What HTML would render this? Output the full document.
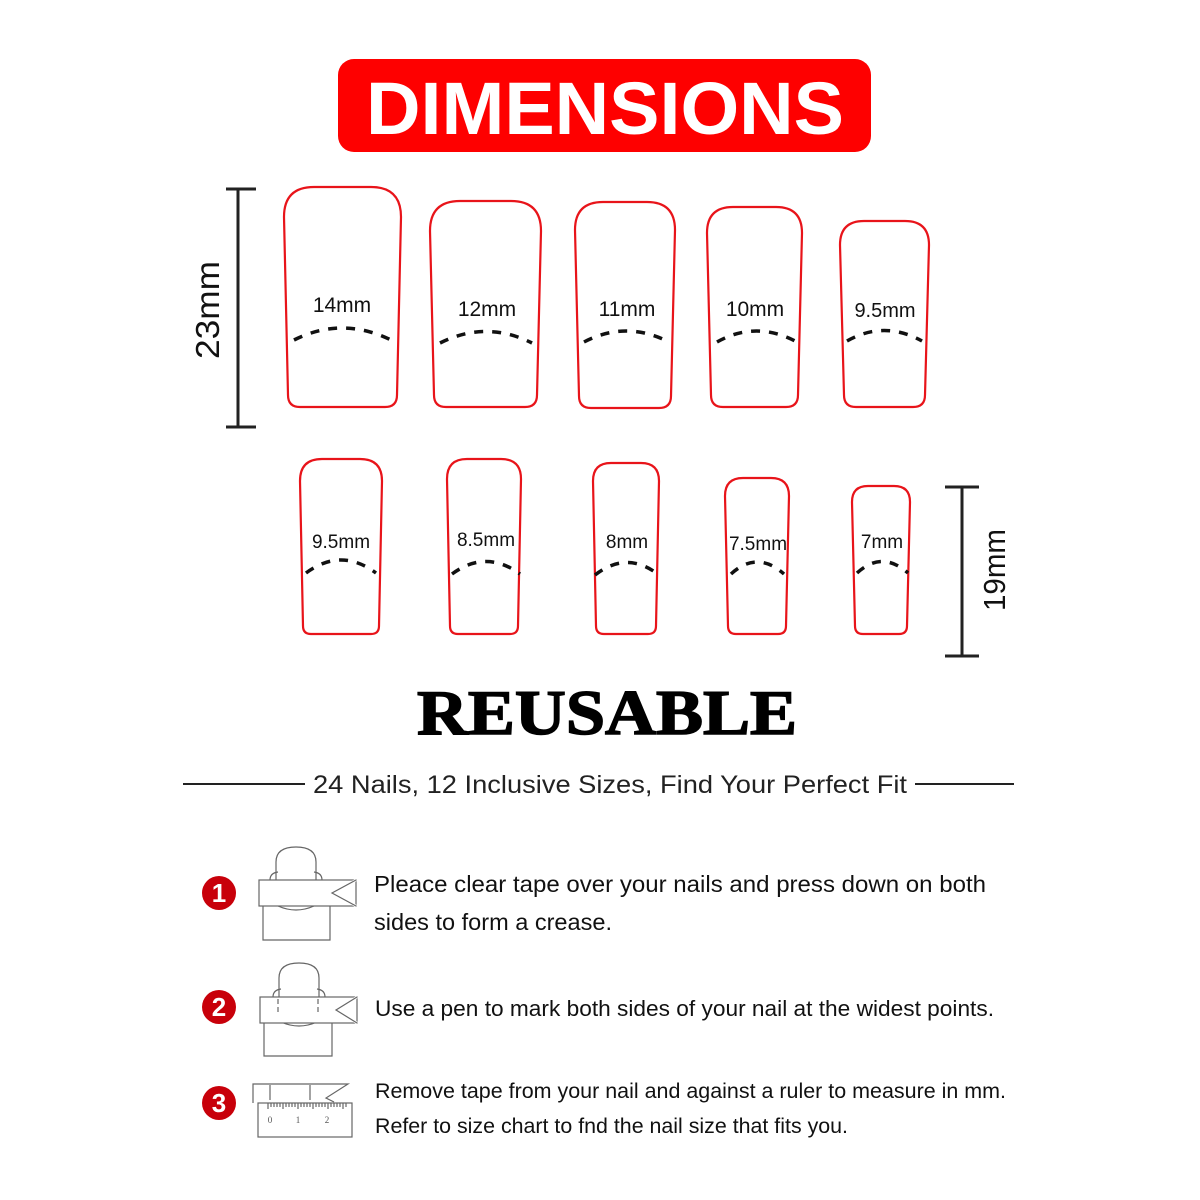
<!DOCTYPE html>
<html><head><meta charset="utf-8"><style>
html,body{margin:0;padding:0;background:#fff;}
svg{display:block;}
</style></head><body>
<svg width="1200" height="1200" viewBox="0 0 1200 1200" xmlns="http://www.w3.org/2000/svg">
<rect width="1200" height="1200" fill="#fff"/>
<!-- title -->
<rect x="338" y="59" width="533" height="93" rx="16" fill="#fe0000"/>
<text x="605" y="134" text-anchor="middle" font-family="Liberation Sans, sans-serif" font-weight="bold" font-size="74" fill="#fff" textLength="478" lengthAdjust="spacingAndGlyphs">DIMENSIONS</text>

<!-- rulers -->
<g stroke="#222" stroke-width="3" fill="none">
<line x1="238" y1="189" x2="238" y2="427"/><line x1="226" y1="189" x2="256" y2="189"/><line x1="226" y1="427" x2="256" y2="427"/>
<line x1="962" y1="487" x2="962" y2="656"/><line x1="945" y1="487" x2="979" y2="487"/><line x1="945" y1="656" x2="979" y2="656"/>
</g>
<text transform="translate(219,310) rotate(-90)" text-anchor="middle" font-family="Liberation Sans, sans-serif" font-size="33" fill="#111" textLength="98" lengthAdjust="spacingAndGlyphs">23mm</text>
<text transform="translate(1005,570) rotate(-90)" text-anchor="middle" font-family="Liberation Sans, sans-serif" font-size="31" fill="#111" textLength="82" lengthAdjust="spacingAndGlyphs">19mm</text>

<!-- nails -->
<g fill="none" stroke="#e8141a" stroke-width="2.2">
<path d="M314,187 L371,187 Q401,187 401,217 L397,395 Q397,407 385,407 L300,407 Q288,407 288,395 L284,217 Q284,187 314,187Z"/>
<path d="M460,201 L511,201 Q541,201 541,231 L537,395 Q537,407 525,407 L446,407 Q434,407 434,395 L430,231 Q430,201 460,201Z"/>
<path d="M603,202 L647,202 Q675,202 675,230 L671,396 Q671,408 659,408 L591,408 Q579,408 579,396 L575,230 Q575,202 603,202Z"/>
<path d="M733,207 L776,207 Q802,207 802,233 L798,395 Q798,407 786,407 L723,407 Q711,407 711,395 L707,233 Q707,207 733,207Z"/>
<path d="M864,221 L905,221 Q929,221 929,245 L925,395 Q925,407 913,407 L856,407 Q844,407 844,395 L840,245 Q840,221 864,221Z"/>
<path d="M322,459 L360,459 Q382,459 382,481 L379,626 Q379,634 371,634 L311,634 Q303,634 303,626 L300,481 Q300,459 322,459Z"/>
<path d="M467,459 L501,459 Q521,459 521,479 L518,626 Q518,634 510,634 L458,634 Q450,634 450,626 L447,479 Q447,459 467,459Z"/>
<path d="M611,463 L641,463 Q659,463 659,481 L656,626 Q656,634 648,634 L604,634 Q596,634 596,626 L593,481 Q593,463 611,463Z"/>
<path d="M743,478 L771,478 Q789,478 789,496 L786,626 Q786,634 778,634 L736,634 Q728,634 728,626 L725,496 Q725,478 743,478Z"/>
<path d="M868,486 L894,486 Q910,486 910,502 L907,626 Q907,634 899,634 L863,634 Q855,634 855,626 L852,502 Q852,486 868,486Z"/>
</g>
<g fill="none" stroke="#111" stroke-width="3.5" stroke-dasharray="9,9">
<path d="M294,340 Q342,316 391,340"/>
<path d="M440,343 Q486,320 532,343"/>
<path d="M584,342 Q626,320 669,342"/>
<path d="M717,342 Q756,320 797,342"/>
<path d="M847,341 Q884,320 922,341"/>
<path d="M306,573 Q341,547 376,573"/>
<path d="M452,574 Q486,549 520,574"/>
<path d="M595,575 Q627,550 659,575"/>
<path d="M731,574 Q757,550 784,574"/>
<path d="M857,573 Q882,550 908,573"/>
</g>
<g font-family="Liberation Sans, sans-serif" fill="#111" text-anchor="middle">
<text x="342" y="312" font-size="21">14mm</text>
<text x="487" y="316" font-size="21">12mm</text>
<text x="627" y="316" font-size="21">11mm</text>
<text x="755" y="316" font-size="21">10mm</text>
<text x="885" y="317" font-size="20">9.5mm</text>
<text x="341" y="548" font-size="19">9.5mm</text>
<text x="486" y="546" font-size="19">8.5mm</text>
<text x="627" y="548" font-size="19">8mm</text>
<text x="758" y="550" font-size="19">7.5mm</text>
<text x="882" y="548" font-size="19">7mm</text>
</g>

<!-- reusable -->
<text x="607" y="734" text-anchor="middle" font-family="Liberation Serif, serif" font-weight="bold" font-size="64" fill="#000" textLength="380" lengthAdjust="spacingAndGlyphs" stroke="#000" stroke-width="1.5">REUSABLE</text>

<line x1="183" y1="784" x2="305" y2="784" stroke="#222" stroke-width="2"/>
<line x1="915" y1="784" x2="1014" y2="784" stroke="#222" stroke-width="2"/>
<text x="313" y="793" font-family="Liberation Sans, sans-serif" font-size="25" fill="#222" textLength="594" lengthAdjust="spacingAndGlyphs">24 Nails, 12 Inclusive Sizes, Find Your Perfect Fit</text>

<!-- step circles -->
<g font-family="Liberation Sans, sans-serif" font-weight="bold" font-size="26" fill="#fff" text-anchor="middle">
<circle cx="219" cy="893" r="17" fill="#c8000a"/><text x="219" y="902">1</text>
<circle cx="219" cy="1007" r="17" fill="#c8000a"/><text x="219" y="1016">2</text>
<circle cx="219" cy="1103" r="17" fill="#c8000a"/><text x="219" y="1112">3</text>
</g>

<!-- icons -->
<g fill="none" stroke="#666" stroke-width="1.2">
<!-- icon1 -->
<path d="M276,880 L276,862 Q276,847 296,847 Q316,847 316,862 L316,880"/>
<path d="M270,880 Q270,873 278,872 M322,880 Q322,873 314,872"/>
<path d="M278,906 Q296,914 314,906"/>
<rect x="259" y="880" width="97" height="26" fill="#fff"/>
<path d="M356,880 L332,893 L356,906" stroke="#fff" stroke-width="2.5"/>
<path d="M356,880 L332,893 L356,906"/>
<path d="M263,906 L263,940 L330,940 L330,906"/>
<!-- icon2 -->
<path d="M279,997 L279,978 Q279,963 299,963 Q319,963 319,978 L319,997"/>
<path d="M273,997 Q273,990 281,989 M325,997 Q325,990 317,989"/>
<path d="M281,1022 Q299,1030 317,1022"/>
<rect x="260" y="997" width="97" height="26" fill="#fff"/>
<path d="M357,997 L336,1010 L357,1023" stroke="#fff" stroke-width="2.5"/>
<path d="M357,997 L336,1010 L357,1023"/>
<path d="M278,999 L278,1015 M318,999 L318,1015" stroke-dasharray="5,3"/>
<path d="M264,1023 L264,1056 L332,1056 L332,1023"/>
<!-- icon3 -->
<path d="M253,1103 L253,1084 L348,1084 L326,1098 L334,1102"/>
<path d="M270,1085 L270,1100 M310,1085 L310,1100"/>
<rect x="258" y="1103" width="94" height="34"/>
<path d="M268,1103 v6 M271,1103 v4 M274,1103 v4 M277,1103 v4 M280,1103 v4 M283,1103 v6 M286,1103 v4 M289,1103 v4 M292,1103 v4 M295,1103 v4 M298,1103 v6 M301,1103 v4 M304,1103 v4 M307,1103 v4 M310,1103 v4 M313,1103 v6 M316,1103 v4 M319,1103 v4 M322,1103 v4 M325,1103 v4 M328,1103 v6 M331,1103 v4 M334,1103 v4 M337,1103 v4 M340,1103 v4 M343,1103 v6 M346,1103 v4"/>
</g>
<g font-family="Liberation Serif, serif" font-size="9" fill="#555" text-anchor="middle">
<text x="270" y="1123">0</text><text x="298" y="1123">1</text><text x="327" y="1123">2</text>
</g>

<!-- step text -->
<g font-family="Liberation Sans Narrow, Liberation Sans, sans-serif" fill="#111">
<text x="374" y="892" font-size="23" textLength="612" lengthAdjust="spacingAndGlyphs">Pleace clear tape over your nails and press down on both</text>
<text x="374" y="930" font-size="23" textLength="238" lengthAdjust="spacingAndGlyphs">sides to form a crease.</text>
<text x="375" y="1016" font-size="22" textLength="619" lengthAdjust="spacingAndGlyphs">Use a pen to mark both sides of your nail at the widest points.</text>
<text x="375" y="1098" font-size="21" textLength="631" lengthAdjust="spacingAndGlyphs">Remove tape from your nail and against a ruler to measure in mm.</text>
<text x="375" y="1133" font-size="21" textLength="473" lengthAdjust="spacingAndGlyphs">Refer to size chart to fnd the nail size that fits you.</text>
</g>
</svg>
</body></html>
